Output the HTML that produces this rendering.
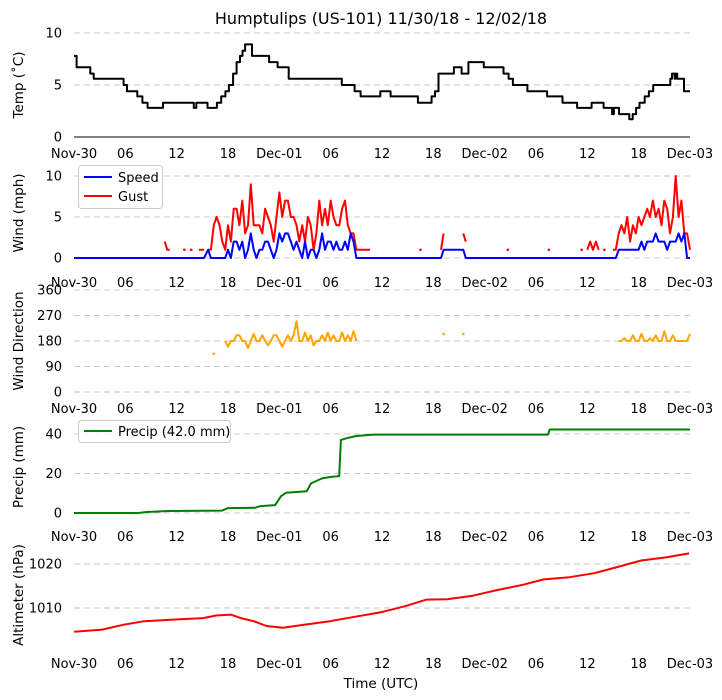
<!DOCTYPE html>
<html><head><meta charset="utf-8"><style>
html,body{margin:0;padding:0;background:#fff;}
svg{display:block;font-family:"DejaVu Sans","Liberation Sans",sans-serif;}
</style></head><body>
<svg id="fig" width="722" height="700" viewBox="0 0 722 700"></svg>
<script>
// ---- data ----
const xTickLabels = ["Nov-30","06","12","18","Dec-01","06","12","18","Dec-02","06","12","18","Dec-03"];
const tempHours = [0,0.3,1.9,2.3,5.8,6.2,7.4,8.0,8.6,10.4,14.0,14.3,15.6,16.7,17.2,17.7,18.1,18.6,19.0,19.4,19.7,20.0,20.8,22.8,23.8,25.1,31.3,32.8,33.5,35.8,37.0,40.2,41.8,42.2,42.6,44.4,45.3,46.1,47.9,50.2,50.8,51.3,53.0,55.3,57.1,58.8,60.5,61.9,62.9,63.1,63.7,64.9,65.3,65.7,66.1,66.7,67.2,67.7,69.7,69.9,70.2,70.3,70.5,71.3,72];
const tempVals = [7.8,6.7,6.1,5.6,5.0,4.4,3.9,3.3,2.8,3.3,2.8,3.3,2.8,3.3,3.9,4.4,5.0,6.1,7.2,7.8,8.3,8.9,7.8,7.2,6.7,5.6,5.0,4.4,3.9,4.4,3.9,3.3,3.9,4.4,6.1,6.7,6.1,7.2,6.7,6.1,5.6,5.0,4.4,3.9,3.3,2.8,3.3,2.8,2.2,2.8,2.2,1.7,2.2,2.8,3.3,3.9,4.4,5.0,5.6,6.1,5.6,6.1,5.6,4.4,4.4];

const segAStart = 15.67;
const segAGust = [1,1,4,5,4,2,1,4,2,6,6,4,7,3,4,9,4,4,4,3,6,5,4,2,5,8,5,7,7,5,5,4,2,4,2,5,4,1,3,7,4,6,4,7,5,4,4,6,7,4,3,3,1,1,1];
const segASpeed = [1,0,0,0,0,0,0,1,0,2,2,1,2,0,1,3,1,0,1,1,2,2,1,0,1,3,2,3,3,2,1,2,1,0,2,0,1,1,0,1,3,1,2,2,1,2,1,1,2,1,3,2,0,0,0];
const segADir = [null,null,135,null,null,null,180,160,180,180,200,200,180,180,155,180,205,180,180,200,180,165,180,200,200,180,160,180,200,180,200,250,180,180,210,180,200,165,180,180,200,180,210,180,200,180,180,210,180,200,180,215,180,null,null];
const segBStart = 59.33;
const segBGust = [1,null,1,2,1,2,1,null,1,null,null,1,1,3,4,3,5,2,4,3,5,4,5,6,5,7,5,6,4,7,6,3,5,10,5,7,3,3,1];
const segBSpeed = [0,0,0,0,0,0,0,0,0,0,0,0,0,1,1,1,1,1,1,1,1,2,1,2,2,2,3,2,2,2,1,2,2,2,3,2,3,0,0];
const segBDir = [null,null,null,null,null,null,null,null,null,null,null,null,null,180,180,190,180,180,200,180,180,205,180,180,190,180,200,180,180,215,180,180,200,180,180,180,180,180,205];
const extraHours = [10.6,10.9,11.2,12.9,13.7,14.6,14.9,15.2,34.0,34.3,34.6,40.5,42.9,43.2,45.5,45.8,50.7,55.5];
const extraGust = [2,1,1,1,1,1,1,1,1,1,1,1,1,3,3,2,1,1];
const extraSpeed = [0,0,0,0,0,0,0,0,0,0,0,0,0,1,1,0,0,0];
const extraDir = [null,null,null,null,null,null,null,null,null,null,null,null,null,205,205,null,null,null];

const precipHours = [0,7.5,8.5,11,17.3,18,21.2,21.8,23.5,24.2,24.8,27.2,27.7,29,30,31.0,31.2,32,33,35,55.4,55.6,72];
const precipVals = [0,0,0.5,1,1.2,2.5,2.7,3.5,4,8.5,10.3,11,15,17.5,18.3,18.7,37,38,39,39.7,39.7,42.3,42.3];

const altHours = [0,3.3,5.8,8.2,12.1,15.1,16.6,18.3,19.5,21,22.5,24.4,26.9,29.9,32.8,35.8,38.7,41.2,43.6,46.6,49.5,52.5,54.9,57.9,60.8,63.3,66.3,69.2,71.9];
const altVals = [1004.6,1005.1,1006.2,1007.0,1007.4,1007.7,1008.3,1008.5,1007.7,1007.0,1005.9,1005.5,1006.2,1007.0,1008.0,1009.0,1010.4,1011.9,1012.0,1012.8,1014.1,1015.3,1016.5,1017.0,1017.9,1019.2,1020.8,1021.5,1022.4];

// ---- drawing ----
const NS="http://www.w3.org/2000/svg";
const svg=document.getElementById('fig');
function el(tag,attrs,parent){const e=document.createElementNS(NS,tag);for(const k in attrs)e.setAttribute(k,attrs[k]);(parent||svg).appendChild(e);return e;}
const X0=74,X1=690,HMAX=72;
function X(h){return X0+(X1-X0)*h/HMAX;}
function lin(v0,y0,v1,y1){return v=>y0+(v-v0)*(y1-y0)/(v1-v0);}

const panels=[
 {name:'temp',title:'Temp (˚C)',y:lin(0,137,10,33),ticks:[0,5,10],grid:[5,10],cy:85,labY:153},
 {name:'wind',title:'Wind (mph)',y:lin(0,258,10,176),ticks:[0,5,10],grid:[0,5,10],cy:213,labY:282},
 {name:'direction',title:'Wind Direction',y:lin(0,392,360,290),ticks:[0,90,180,270,360],grid:[0,90,180,270,360],cy:341,labY:408},
 {name:'precip',title:'Precip (mm)',y:lin(0,513,40,434),ticks:[0,20,40],grid:[0,20,40],cy:467,labY:536},
 {name:'altimeter',title:'Altimeter (hPa)',y:lin(1010,608,1020,564),ticks:[1010,1020],grid:[1010,1020],cy:595,labY:663}
];

const t=el('text',{x:381,y:24,'text-anchor':'middle','font-size':16,fill:'#000'});
t.textContent="Humptulips (US-101) 11/30/18 - 12/02/18";



const xt=el('text',{x:381,y:688,'text-anchor':'middle','font-size':13.5,fill:'#000'});
xt.textContent="Time (UTC)";



panels.forEach(p=>{
 const g=el('g',{});
 
 
 p.g=g;
 p.grid.forEach(v=>{
  const l=el('line',{x1:X0,x2:X1,y1:p.y(v),y2:p.y(v),stroke:'#c8c8c8','stroke-width':1,'stroke-dasharray':'6,4'},g);
  
  
 });
 p.ticks.forEach(v=>{
  const tx=el('text',{x:62,y:p.y(v)+4.5,'text-anchor':'end','font-size':13,fill:'#000'},g);
  tx.textContent=String(v);
  
  
 });
 xTickLabels.forEach((s,i)=>{
  const tx=el('text',{x:X(i*6),y:p.labY+5,'text-anchor':'middle','font-size':13,fill:'#000'},g);
  tx.textContent=s;
  
  
 });
 const yt=el('text',{x:0,y:0,'text-anchor':'middle','font-size':13.5,fill:'#000',transform:`translate(23,${p.cy}) rotate(-90)`},g);
 yt.textContent=p.title;
 
 
});

function poly(pts,color,parent,name){
 const d=pts.map((q,i)=>(i?'L':'M')+q[0].toFixed(1)+','+q[1].toFixed(1)).join('');
 const pa=el('path',{d:d,fill:'none',stroke:color,'stroke-width':2,'stroke-linejoin':'round'},parent);
 
 
 return pa;
}
function dot(x,y,color,parent,name){
 const c=el('circle',{cx:x,cy:y,r:1.3,fill:color},parent);
 
 
}

// temp
{const p=panels[0];
 const ax=el('line',{x1:X0,x2:X1,y1:p.y(0),y2:p.y(0),stroke:'#000','stroke-width':1},p.g);
 
 
 const pts=[];
 for(let i=0;i<tempHours.length;i++){
  if(i>0)pts.push([X(tempHours[i]),p.y(tempVals[i-1])]);
  pts.push([X(tempHours[i]),p.y(tempVals[i])]);
 }
 poly(pts,'#000',p.g,'temp-line');
}

// wind series assembled
const wind=[];
segAGust.forEach((g,i)=>wind.push({h:segAStart+i/3,g:g,s:segASpeed[i],d:segADir[i]}));
segBGust.forEach((g,i)=>wind.push({h:segBStart+i/3,g:g,s:segBSpeed[i],d:segBDir[i]}));
extraHours.forEach((h,i)=>wind.push({h:h,g:extraGust[i],s:extraSpeed[i],d:extraDir[i]}));
wind.sort((a,b)=>a.h-b.h);

function drawBroken(key,color,yf,parent,name){
 let run=[];let prevH=null;
 const flush=()=>{if(run.length>1)poly(run,color,parent,name);else if(run.length===1)dot(run[0][0],run[0][1],color,parent,name+'-point');run=[];};
 wind.forEach(w=>{
  const v=w[key];
  if(v==null){flush();prevH=null;return;}
  if(prevH!=null&&w.h-prevH>0.4)flush();
  run.push([X(w.h),yf(v)]);prevH=w.h;
 });
 flush();
}
{const p=panels[1];
 const sp=[[X(0),p.y(0)]];
 wind.forEach(w=>sp.push([X(w.h),p.y(w.s)]));
 sp.push([X(72),p.y(0)]);
 drawBroken('g','#ff0000',p.y,p.g,'gust-line');
 poly(sp,'#0000ff',p.g,'speed-line');
 const lg=el('g',{},p.g);
 
 
 el('rect',{x:78.5,y:165.5,width:84,height:43,rx:3,fill:'#fff','fill-opacity':0.8,stroke:'#ccc'},lg);
 el('line',{x1:84,x2:112,y1:177,y2:177,stroke:'#0000ff','stroke-width':2},lg);
 el('line',{x1:84,x2:112,y1:196,y2:196,stroke:'#ff0000','stroke-width':2},lg);
 const a=el('text',{x:118,y:182,'font-size':13},lg);a.textContent='Speed';
 
 
 const b=el('text',{x:118,y:201,'font-size':13},lg);b.textContent='Gust';
 
 
}
{const p=panels[2];
 drawBroken('d','#ffa500',p.y,p.g,'direction-line');
}
{const p=panels[3];
 poly(precipHours.map((h,i)=>[X(h),p.y(precipVals[i])]),'#008000',p.g,'precip-line');
 const lg=el('g',{},p.g);
 
 
 el('rect',{x:78.5,y:420.5,width:152,height:22,rx:3,fill:'#fff','fill-opacity':0.8,stroke:'#ccc'},lg);
 el('line',{x1:84,x2:112,y1:431,y2:431,stroke:'#008000','stroke-width':2},lg);
 const a=el('text',{x:118,y:436,'font-size':13},lg);a.textContent='Precip (42.0 mm)';
 
 
}
{const p=panels[4];
 poly(altHours.map((h,i)=>[X(h),p.y(altVals[i])]),'#ff0000',p.g,'altimeter-line');
}
</script>
</body></html>
